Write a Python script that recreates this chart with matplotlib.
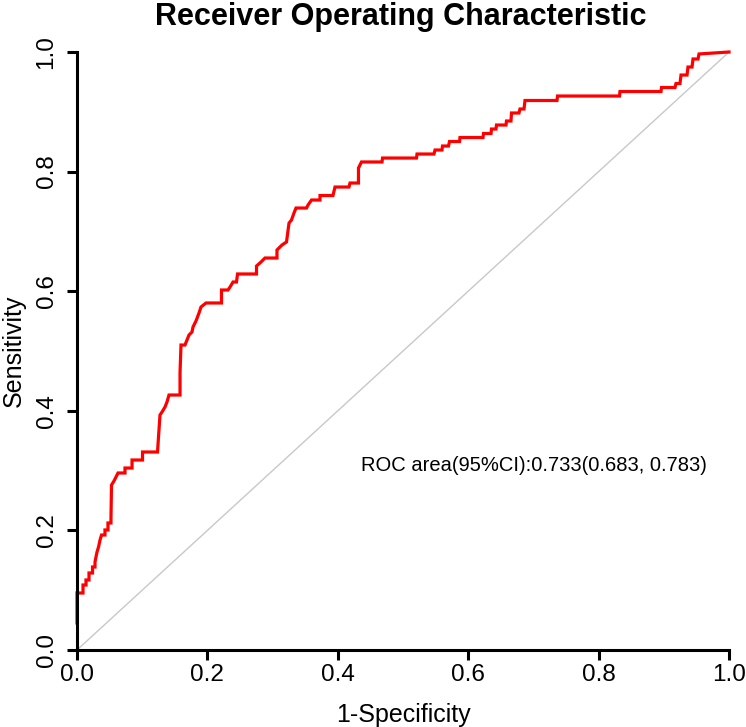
import matplotlib
matplotlib.use("Agg")
import matplotlib.pyplot as plt
from matplotlib import font_manager

# ROC curve vertices (1-specificity, sensitivity)
fpr = [0.0, 0.0, 0.0092, 0.0092, 0.0138, 0.0138, 0.0184, 0.0184, 0.0238, 0.0238,
       0.0276, 0.0276, 0.0291, 0.0307, 0.0330, 0.0353, 0.0376, 0.0429, 0.0429,
       0.0475, 0.0475, 0.0521, 0.0521, 0.0529, 0.0567, 0.0629, 0.0736, 0.0736,
       0.0844, 0.0844, 0.1005, 0.1005, 0.1235, 0.1250, 0.1273, 0.1304, 0.1350,
       0.1380, 0.1411, 0.1580, 0.1580, 0.1595, 0.1656, 0.1687, 0.1718, 0.1764,
       0.1779, 0.1825, 0.1871, 0.1902, 0.1979, 0.2216, 0.2216, 0.2316, 0.2347,
       0.2393, 0.2446, 0.2462, 0.2753, 0.2753, 0.2822, 0.2883, 0.3067, 0.3067,
       0.3144, 0.3213, 0.3252, 0.3290, 0.3328, 0.3359, 0.3520, 0.3543, 0.3597,
       0.3727, 0.3727, 0.3926, 0.3957, 0.4172, 0.4187, 0.4317, 0.4317, 0.4363,
       0.4678, 0.4686, 0.5207, 0.5215, 0.5475, 0.5491, 0.5598, 0.5606, 0.5698,
       0.5713, 0.5867, 0.5874, 0.6227, 0.6235, 0.6350, 0.6357, 0.6426, 0.6434,
       0.6580, 0.6587, 0.6656, 0.6664, 0.6779, 0.6794, 0.6856, 0.6871, 0.7362,
       0.7370, 0.8321, 0.8328, 0.8957, 0.8965, 0.9172, 0.9187, 0.9248, 0.9264,
       0.9356, 0.9371, 0.9433, 0.9448, 0.9525, 0.9540, 1.0]
tpr = [0.0452, 0.0953, 0.0953, 0.1087, 0.1087, 0.1171, 0.1171, 0.1288, 0.1288, 0.1388,
       0.1388, 0.1472, 0.1555, 0.1639, 0.1722, 0.1839, 0.1923, 0.1923, 0.2007,
       0.2007, 0.2124, 0.2124, 0.2207, 0.2759, 0.2826, 0.2960, 0.2960, 0.3043,
       0.3043, 0.3177, 0.3177, 0.3311, 0.3311, 0.3562, 0.3930, 0.3980, 0.4064,
       0.4147, 0.4264, 0.4264, 0.4632, 0.5100, 0.5100, 0.5184, 0.5268, 0.5318,
       0.5401, 0.5502, 0.5635, 0.5736, 0.5803, 0.5803, 0.6020, 0.6020, 0.6070,
       0.6154, 0.6154, 0.6288, 0.6288, 0.6421, 0.6488, 0.6555, 0.6555, 0.6689,
       0.6773, 0.6823, 0.7140, 0.7191, 0.7308, 0.7391, 0.7391, 0.7441, 0.7525,
       0.7525, 0.7600, 0.7600, 0.7742, 0.7742, 0.7809, 0.7809, 0.8060, 0.8161,
       0.8161, 0.8227, 0.8227, 0.8294, 0.8294, 0.8361, 0.8361, 0.8428, 0.8428,
       0.8503, 0.8503, 0.8570, 0.8570, 0.8637, 0.8637, 0.8712, 0.8712, 0.8779,
       0.8779, 0.8846, 0.8846, 0.8980, 0.8980, 0.9047, 0.9047, 0.9189, 0.9189,
       0.9264, 0.9264, 0.9339, 0.9339, 0.9406, 0.9406, 0.9473, 0.9473, 0.9615,
       0.9615, 0.9749, 0.9749, 0.9883, 0.9883, 0.9967, 1.0]

ticks = [0.0, 0.2, 0.4, 0.6, 0.8, 1.0]
tick_labels = ["0.0", "0.2", "0.4", "0.6", "0.8", "1.0"]
title = "Receiver Operating Characteristic"
xlabel = "1-Specificity"
ylabel = "Sensitivity"
annotation = "ROC area(95%CI):0.733(0.683, 0.783)"

# look for a narrow (condensed) sans font; fall back to Liberation Sans
narrow_reg = narrow_bold = None
for f in font_manager.fontManager.ttflist:
    fn = f.fname.lower()
    if "liberationsansnarrow" in fn.replace("-", "").replace("_", ""):
        if "bold" in fn and "italic" not in fn:
            narrow_bold = f.fname
        elif "regular" in fn:
            narrow_reg = f.fname

if narrow_reg:
    fp_tick = font_manager.FontProperties(fname=narrow_reg, size=20)
    fp_lab = font_manager.FontProperties(fname=narrow_reg, size=20)
else:
    fp_tick = font_manager.FontProperties(family="Liberation Sans", size=17.5)
    fp_lab = font_manager.FontProperties(family="Liberation Sans", size=18)
if narrow_bold:
    fp_title = font_manager.FontProperties(fname=narrow_bold, size=23)
else:
    fp_title = font_manager.FontProperties(family="Liberation Sans", weight="bold", size=22)

W, H = 746, 727
fig = plt.figure(figsize=(W / 100, H / 100), dpi=100)
ax = fig.add_axes([77 / W, 1 - 650 / H, (729 - 77) / W, (650 - 52) / H])
ax.set_xlim(0, 1)
ax.set_ylim(0, 1)

ax.plot([0, 1], [0, 1], color="#c8c8c8", lw=1.0, zorder=1)
ax.plot(fpr, tpr, color="#ff0000", lw=2.3, solid_joinstyle="miter", zorder=2, clip_on=False)

for s in ["top", "right"]:
    ax.spines[s].set_visible(False)
for s in ["left", "bottom"]:
    ax.spines[s].set_linewidth(2.2)
    ax.spines[s].set_color("black")

ax.set_xticks(ticks)
ax.set_xticklabels(tick_labels, fontproperties=fp_tick)
ax.set_yticks(ticks)
ax.set_yticklabels(tick_labels, fontproperties=fp_tick, rotation=90, va="center")
ax.tick_params(axis="both", direction="out", length=7, width=2.2, color="black")
ax.tick_params(axis="x", pad=3)
ax.tick_params(axis="y", pad=7)

ax.set_xlabel(xlabel, fontproperties=fp_lab, labelpad=12)
ax.set_ylabel(ylabel, fontproperties=fp_lab, labelpad=7)
fig.text(401 / W, 1 - 17 / H, title, ha="center", va="center", fontproperties=fp_title)
ax.text(0.435, 0.308, annotation, fontfamily="Liberation Sans", fontsize=14.5,
        ha="left", va="center")

fig.savefig("out.png", dpi=100)
